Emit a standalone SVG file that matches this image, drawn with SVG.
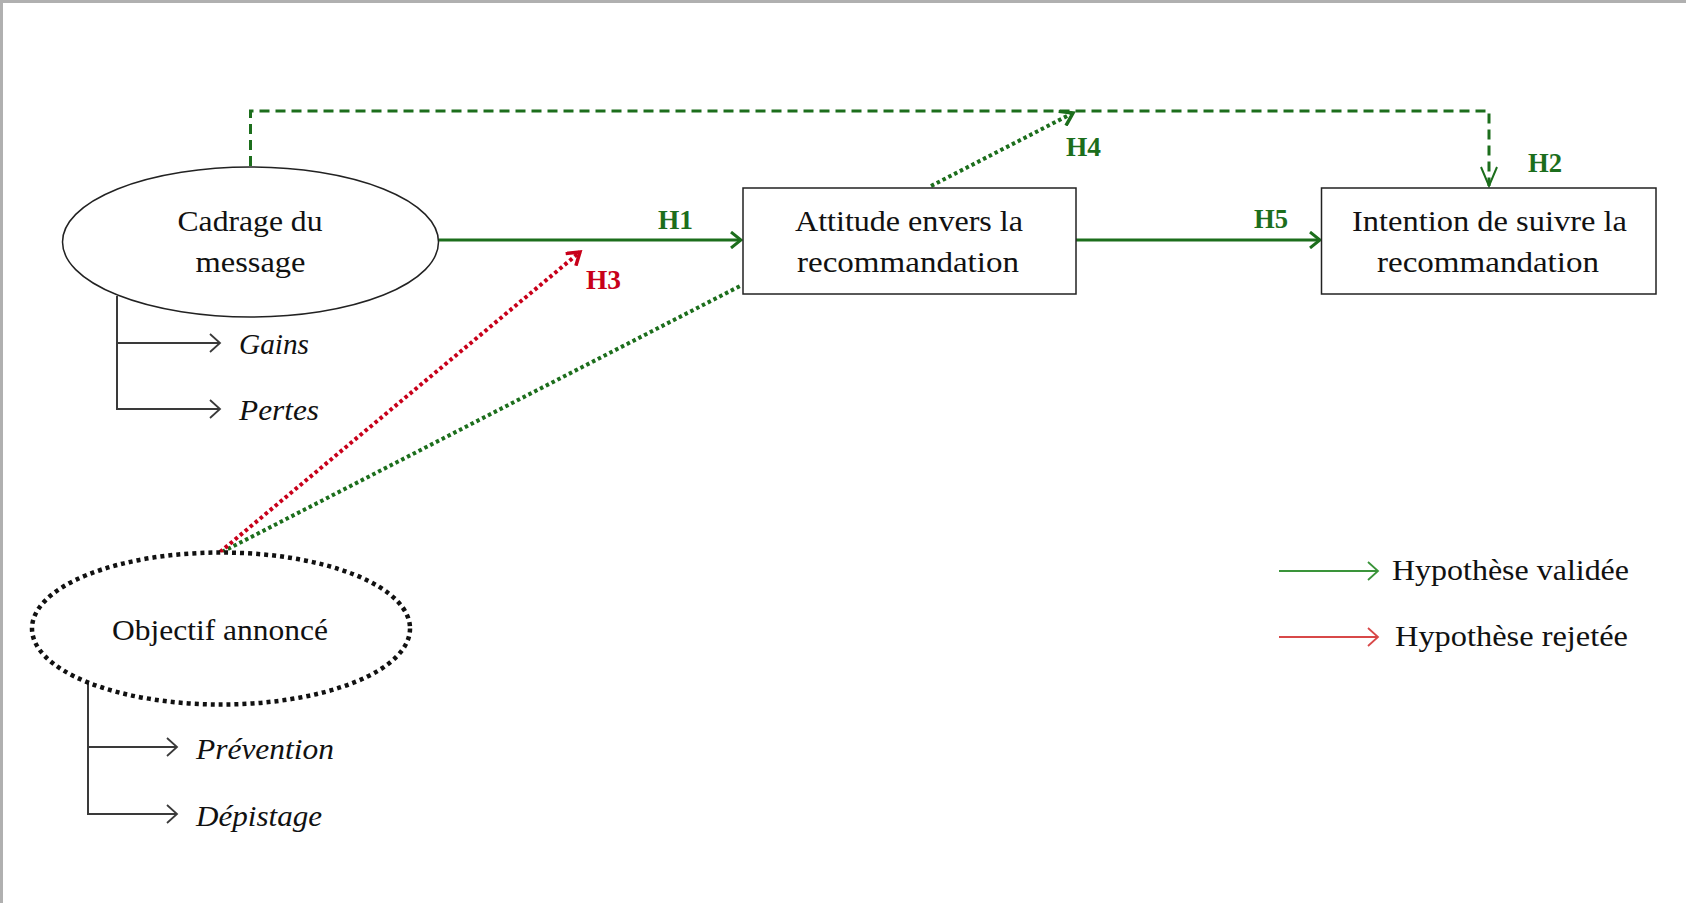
<svg xmlns="http://www.w3.org/2000/svg" width="1686" height="903" viewBox="0 0 1686 903">
<style>
.t{font-family:"Liberation Serif","DejaVu Serif",serif;font-size:30px;fill:#111;text-anchor:middle}
.it{font-family:"Liberation Serif","DejaVu Serif",serif;font-size:30px;fill:#111;font-style:italic}
.lg{font-family:"Liberation Serif","DejaVu Serif",serif;font-size:30px;fill:#111}
.h{font-family:"Liberation Serif","DejaVu Serif",serif;font-size:28px;font-weight:bold;fill:#1c6e1c}
.hr{font-family:"Liberation Serif","DejaVu Serif",serif;font-size:28px;font-weight:bold;fill:#c8001a}
.node{fill:#fff;stroke:#222;stroke-width:1.5}
.br{fill:none;stroke:#3a3a3a;stroke-width:2}
</style>
<defs>
<marker id="ag" markerWidth="14" markerHeight="18" refX="12" refY="9" orient="auto" markerUnits="userSpaceOnUse"><path d="M2,1 L12,9 L2,17" fill="none" stroke="#1c6e1c" stroke-width="3"/></marker>
<marker id="agt" markerWidth="24" markerHeight="20" refX="21" refY="10" orient="auto" markerUnits="userSpaceOnUse"><path d="M2,2 L21,10 L2,18" fill="none" stroke="#1c6e1c" stroke-width="2"/></marker>
<marker id="agd" markerWidth="16" markerHeight="18" refX="13" refY="9" orient="auto" markerUnits="userSpaceOnUse"><path d="M1,1 L13,9 L1,17" fill="none" stroke="#1c6e1c" stroke-width="3.5"/></marker>
<marker id="ard" markerWidth="16" markerHeight="18" refX="13" refY="9" orient="auto" markerUnits="userSpaceOnUse"><path d="M1,1 L13,9 L1,17" fill="none" stroke="#c8001a" stroke-width="3.5"/></marker>
<marker id="ak" markerWidth="14" markerHeight="20" refX="12" refY="10" orient="auto" markerUnits="userSpaceOnUse"><path d="M2,1 L12,10 L2,19" fill="none" stroke="#3a3a3a" stroke-width="1.8"/></marker>
<marker id="alg" markerWidth="14" markerHeight="20" refX="12" refY="10" orient="auto" markerUnits="userSpaceOnUse"><path d="M2,1 L12,10 L2,19" fill="none" stroke="#3a943a" stroke-width="1.8"/></marker>
<marker id="alr" markerWidth="14" markerHeight="20" refX="12" refY="10" orient="auto" markerUnits="userSpaceOnUse"><path d="M2,1 L12,10 L2,19" fill="none" stroke="#d84848" stroke-width="1.8"/></marker>
</defs>
<rect x="0" y="0" width="1686" height="903" fill="#fff"/>
<line x1="0" y1="1.5" x2="1686" y2="1.5" stroke="#b0b0b0" stroke-width="3"/>
<line x1="1.5" y1="0" x2="1.5" y2="903" stroke="#b0b0b0" stroke-width="3"/>

<g id="connectors">
<line x1="439" y1="240" x2="741" y2="240" stroke="#1c6e1c" stroke-width="3" marker-end="url(#ag)"/>
<line x1="1076" y1="240" x2="1320" y2="240" stroke="#1c6e1c" stroke-width="3" marker-end="url(#ag)"/>
<polyline points="250.5,166 250.5,111 1489,111 1489,186" fill="none" stroke="#1c6e1c" stroke-width="3" stroke-dasharray="10 6" marker-end="url(#agt)"/>
<line x1="931" y1="186" x2="1073" y2="113" stroke="#1c6e1c" stroke-width="4" stroke-dasharray="3.5 3" marker-end="url(#agd)"/>
<line x1="222" y1="552" x2="742" y2="285" stroke="#1c6e1c" stroke-width="4" stroke-dasharray="3.5 3"/>
<line x1="220" y1="552" x2="580" y2="252" stroke="#c8001a" stroke-width="4" stroke-dasharray="3.5 3" marker-end="url(#ard)"/>
<polyline points="117,296 117,409 220,409" class="br" marker-end="url(#ak)"/>
<line x1="117" y1="343" x2="220" y2="343" class="br" marker-end="url(#ak)"/>
<polyline points="88,680 88,814 177,814" class="br" marker-end="url(#ak)"/>
<line x1="88" y1="747" x2="177" y2="747" class="br" marker-end="url(#ak)"/>
<text class="h" x="658" y="229" textLength="35" lengthAdjust="spacingAndGlyphs">H1</text>
<text class="h" x="1254" y="228" textLength="34" lengthAdjust="spacingAndGlyphs">H5</text>
<text class="h" x="1528" y="172" textLength="34" lengthAdjust="spacingAndGlyphs">H2</text>
<text class="h" x="1066" y="156" textLength="35" lengthAdjust="spacingAndGlyphs">H4</text>
<text class="hr" x="586" y="289" textLength="35" lengthAdjust="spacingAndGlyphs">H3</text>
</g>

<g id="cadrage">
<ellipse cx="250.5" cy="242" rx="188" ry="75" class="node"/>
<text class="t" x="250" y="231" textLength="145" lengthAdjust="spacingAndGlyphs">Cadrage du</text>
<text class="t" x="250.5" y="272" textLength="110" lengthAdjust="spacingAndGlyphs">message</text>
</g>
<g id="gains"><text class="it" x="239" y="354" textLength="70" lengthAdjust="spacingAndGlyphs">Gains</text></g>
<g id="pertes"><text class="it" x="239" y="420" textLength="80" lengthAdjust="spacingAndGlyphs">Pertes</text></g>

<g id="attitude">
<rect x="743" y="188" width="333" height="106" class="node"/>
<text class="t" x="909" y="231" textLength="228" lengthAdjust="spacingAndGlyphs">Attitude envers la</text>
<text class="t" x="908" y="272" textLength="222" lengthAdjust="spacingAndGlyphs">recommandation</text>
</g>

<g id="intention">
<rect x="1321.5" y="188" width="334.5" height="106" class="node"/>
<text class="t" x="1489.5" y="231" textLength="275" lengthAdjust="spacingAndGlyphs">Intention de suivre la</text>
<text class="t" x="1488" y="272" textLength="222" lengthAdjust="spacingAndGlyphs">recommandation</text>
</g>

<g id="objectif">
<ellipse cx="221" cy="628.5" rx="189" ry="76" fill="#fff" stroke="#111" stroke-width="4.5" stroke-dasharray="4 4"/>
<text class="t" x="220" y="640" textLength="216" lengthAdjust="spacingAndGlyphs">Objectif annoncé</text>
</g>
<g id="prevention"><text class="it" x="196" y="759" textLength="138" lengthAdjust="spacingAndGlyphs">Prévention</text></g>
<g id="depistage"><text class="it" x="196" y="826" textLength="126" lengthAdjust="spacingAndGlyphs">Dépistage</text></g>

<g id="legend">
<line x1="1279" y1="571" x2="1378" y2="571" stroke="#3a943a" stroke-width="2" marker-end="url(#alg)"/>
<text class="lg" x="1392" y="580" textLength="237" lengthAdjust="spacingAndGlyphs">Hypothèse validée</text>
<line x1="1279" y1="637" x2="1378" y2="637" stroke="#d84848" stroke-width="2" marker-end="url(#alr)"/>
<text class="lg" x="1395" y="646" textLength="233" lengthAdjust="spacingAndGlyphs">Hypothèse rejetée</text>
</g>
</svg>
